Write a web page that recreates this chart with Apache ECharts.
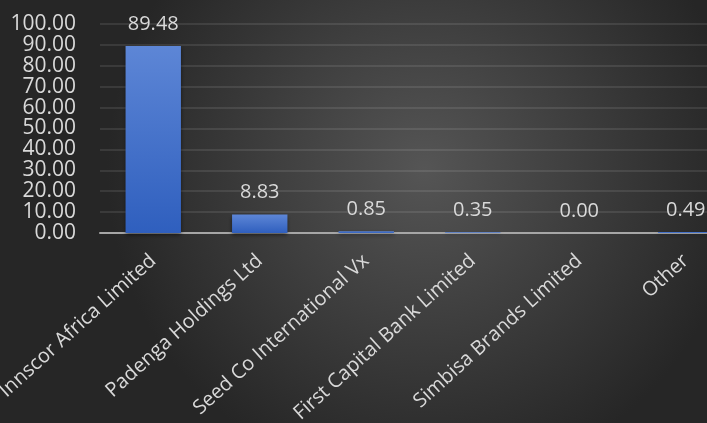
<!DOCTYPE html>
<html>
<head>
<meta charset="utf-8">
<script src="https://cdn.jsdelivr.net/npm/echarts@6/dist/echarts.min.js"></script>
<style>html,body{margin:0;padding:0;background:#333;}#c{width:707px;height:423px;}</style>
</head>
<body>
<div id="c"></div>
<script>
var categories = ["Innscor Africa Limited", "Padenga Holdings Ltd", "Seed Co International Vx", "First Capital Bank Limited", "Simbisa Brands Limited", "Other"];
var values = [89.48, 8.83, 0.85, 0.35, 0.00, 0.49];
var yMin = 0, yMax = 100, yStep = 10;

var chart = echarts.init(document.getElementById('c'));
var font = '"Open Sans", "Noto Sans", sans-serif';
chart.setOption({
  animation: false,
  backgroundColor: {
    type: 'radial', x: 0.6, y: 0.4, r: 0.75,
    colorStops: [{offset: 0, color: '#555555'}, {offset: 1, color: '#262626'}]
  },
  grid: {left: 100, top: 24, height: 209, width: 639, containLabel: false, outerBoundsMode: 'none'},
  xAxis: {
    type: 'category',
    data: categories,
    axisLine: {lineStyle: {color: '#a6a6a6', width: 2}},
    axisTick: {show: false},
    axisLabel: {
      interval: 0, rotate: 42, margin: 25,
      color: '#d9d9d9', fontSize: 20, fontFamily: font
    }
  },
  yAxis: {
    type: 'value', min: yMin, max: yMax, interval: yStep,
    axisLine: {show: false},
    axisTick: {show: false},
    splitLine: {lineStyle: {color: 'rgba(255,255,255,0.13)', width: 1.5}},
    axisLabel: {
      margin: 24, color: '#d9d9d9', fontSize: 21, fontFamily: font,
      formatter: function (v) { return v.toFixed(2); }
    }
  },
  series: [{
    type: 'bar',
    data: values,
    barWidth: '52%',
    itemStyle: {
      color: {
        type: 'linear', x: 0, y: 0, x2: 0, y2: 1,
        colorStops: [{offset: 0, color: '#5d86d6'}, {offset: 1, color: '#2f5fbe'}]
      },
      shadowColor: 'rgba(0,0,0,0.5)', shadowBlur: 4, shadowOffsetY: 2
    },
    label: {
      show: true, position: 'top', distance: 12,
      color: '#d9d9d9', fontSize: 20, fontFamily: font,
      formatter: function (p) { return p.value.toFixed(2); }
    }
  }]
});
</script>
</body>
</html>
